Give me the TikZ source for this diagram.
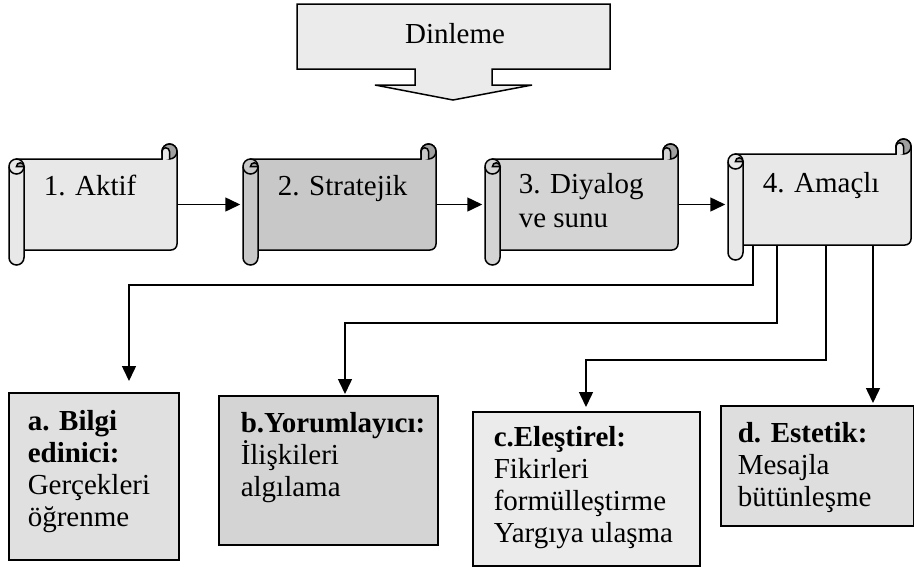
\documentclass[tikz,border=0pt]{standalone}
\usepackage{fontspec}
\setmainfont{Liberation Serif}
\usetikzlibrary{arrows.meta}
\definecolor{lightfill}{HTML}{E8E8E8}
\definecolor{darkfill}{HTML}{C8C8C8}
\definecolor{midfill}{HTML}{D4D4D4}
\definecolor{curlfill}{HTML}{A0A0A0}
\tikzset{
  txt/.style={inner sep=0pt, align=left, anchor=base west, font=\fontsize{29}{32}\selectfont},
  box/.style={draw, line width=1.5pt, inner sep=0pt, anchor=north west},
  arr/.style={line width=1.5pt, -{Triangle[length=15pt,width=14pt]}, shorten >=2pt}
}
\begin{document}
\begin{tikzpicture}[x=1pt,y=-1pt,line width=1.5pt]
\useasboundingbox (0,0) rectangle (914,566);
% big arrow on top
\filldraw[fill=black!8] (297,4) -- (610,4) -- (610,69) -- (492,69) -- (492,85) -- (532,85) -- (453,100) -- (375,85) -- (415,85) -- (415,69) -- (297,69) -- cycle;
\node[txt, anchor=base] (din) at (455,43) {Dinleme};
% the four scrolls
\foreach \i/\L/\T/\W/\c in {1/9/144/168/lightfill, 2/243/144/193/darkfill, 3/485/144/193/midfill, 4/728/139/183/lightfill}{
  \begin{scope}[shift={(\L,\T)}]
    \filldraw[fill=\c] (7.5,15) -- ({\W-15},15) -- ({\W-15},7.5) arc (180:360:7.5) [rounded corners=6] -- (\W,106) -- (7.5,106) [sharp corners] -- cycle;
    \filldraw[fill=curlfill] ({\W-7.5},7.5) circle (7.5);
    \filldraw[fill=\c] ({\W-15},15) -- ({\W-15},7.5) arc (180:360:3.75) -- ({\W-7.5},15);
    \filldraw[fill=\c] (0,22.5) -- (0,113.5) arc (180:0:7.5) -- (15,22.5) arc (0:-180:7.5) -- cycle;
    \draw (0,22.5) arc (180:0:7.5);
    \filldraw[fill=curlfill] (7.5,22.5) arc (180:360:3.75) -- cycle;
  \end{scope}
  \node[inner sep=0pt, minimum width=\W pt, minimum height=91pt] (s\i) at ({\L+\W/2},{\T+60.5}) {};
}
% labels (base = last line)
\node[txt] (t1) at (43,195) {1. Aktif};
\node[txt] (t2) at (277,195) {2. Stratejik};
\node[txt] (t3) at (518,227) {3. Diyalog\\[2pt]ve sunu};
\node[txt] (t4) at (762,192) {4. Amaçlı};
\draw[arr] (s1.east) -- (s2.west);
\draw[arr] (s2.east) -- (s3.west);
\draw[arr] (s3.east) -- (s3.east -| s4.west);
% bottom boxes
\node[box, fill=black!12, minimum width=170pt, minimum height=167pt] (a) at (8,392) {};
\node[box, fill=black!17, minimum width=219pt, minimum height=149pt] (b) at (218,395) {};
\node[box, fill=black!8, minimum width=227pt, minimum height=154pt] (c) at (472,411) {};
\node[box, fill=black!13, minimum width=193pt, minimum height=120pt] (d) at (720,405) {};
\node[txt] (ta) at (27,526) {\textbf{a. Bilgi}\\\textbf{edinici:}\\Gerçekleri\\öğrenme};
\node[txt] (tb) at (240,496) {\textbf{b.Yorumlayıcı:}\\İlişkileri\\algılama};
\node[txt] (tc) at (493,542) {\textbf{c.Eleştirel:}\\Fikirleri\\formülleştirme\\Yargıya ulaşma};
\node[txt] (td) at (737,506) {\textbf{d. Estetik:}\\Mesajla\\bütünleşme};
% connectors from 4
\coordinate (o1) at (753,245);
\coordinate (o2) at (777,245);
\coordinate (o3) at (826,245);
\coordinate (o4) at (873,245);
\coordinate (j1) at (129,285);
\coordinate (j2) at (345,323);
\coordinate (j3) at (586,360);
\draw[arr, shorten >=11pt] (o1) |- (j1) -- (j1 |- a.north);
\draw[arr, shorten >=1pt] (o2) |- (j2) -- (j2 |- b.north);
\draw[arr, shorten >=4pt] (o3) |- (j3) -- (j3 |- c.north);
\draw[arr] (o4) -- (o4 |- d.north);
\end{tikzpicture}
\end{document}
